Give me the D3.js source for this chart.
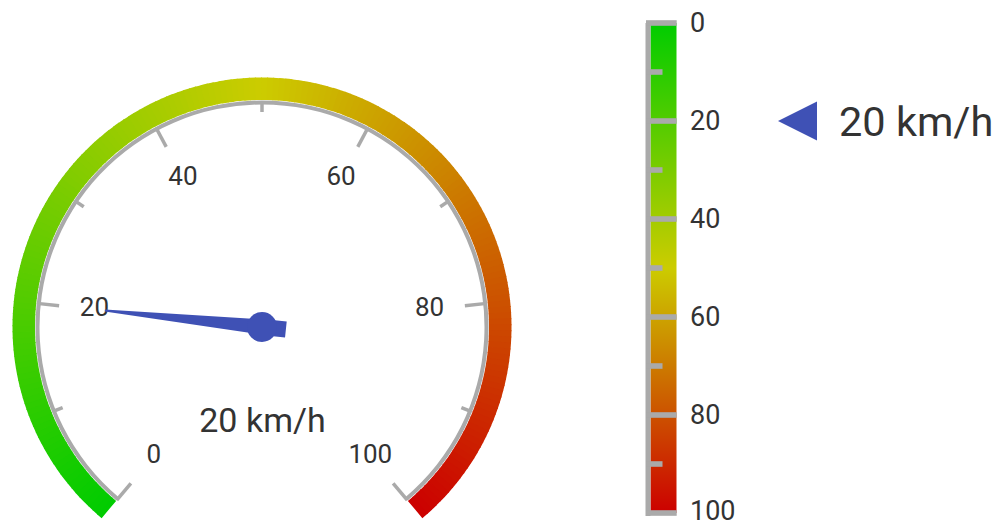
<!DOCTYPE html>
<html><head><meta charset="utf-8">
<script src="https://cdn.jsdelivr.net/npm/d3@7"></script>
<style>
body{margin:0;background:#fff}
svg{display:block;font-family:Roboto,"Noto Sans",sans-serif}
</style>
</head><body>
<svg id="c" width="1003" height="522"></svg>
<script>
// ---- data ----
const scaleTicks = [0, 20, 40, 60, 80, 100];
const minorTicks = [10, 30, 50, 70, 90];
const currentValue = 20;
const unitLabel = "km/h";
const rangeColors = ["#00cc00", "#cccc00", "#cc0000"];
const scaleMin = 0, scaleMax = 100;

// ---- setup ----
const svg = d3.select("#c");
const gray = "#aaaaaa";
const textColor = "#333333";
const pointerColor = "#3f51b5";
const colorAt = d3.scaleLinear().domain([scaleMin, (scaleMin + scaleMax) / 2, scaleMax])
  .range(rangeColors).interpolate(d3.interpolateRgb);

// ===== Radial gauge =====
const cx = 262, cy = 327;
const angle = d3.scaleLinear().domain([scaleMin, scaleMax]).range([-140, 140]); // degrees, 0 = top
const rad = d => angle(d) * Math.PI / 180;
const pt = (v, r) => [cx + r * Math.sin(rad(v)), cy - r * Math.cos(rad(v))];
const gR = svg.append("g");

// coloured band (conic gradient via thin slices)
const nSlices = 200;
const step = (scaleMax - scaleMin) / nSlices;
const slices = d3.range(nSlices).map(i => scaleMin + i * step);
const bandArc = d3.arc().innerRadius(227).outerRadius(249.5);
gR.append("g").attr("transform", `translate(${cx},${cy})`)
  .selectAll("path").data(slices).join("path")
  .attr("d", d => bandArc({startAngle: rad(d) - (d > scaleMin ? 0.004 : 0),
                           endAngle: rad(Math.min(d + step, scaleMax))}))
  .attr("fill", d => colorAt(d + step / 2));

// gray axis arc
const axisArc = d3.arc().innerRadius(222.5).outerRadius(226.5)
  .startAngle(rad(scaleMin)).endAngle(rad(scaleMax));
gR.append("path").attr("transform", `translate(${cx},${cy})`)
  .attr("d", axisArc()).attr("fill", gray);

// ticks
gR.selectAll("line.maj").data(scaleTicks).join("line").attr("class", "maj")
  .attr("x1", d => pt(d, 226)[0]).attr("y1", d => pt(d, 226)[1])
  .attr("x2", d => pt(d, 204)[0]).attr("y2", d => pt(d, 204)[1])
  .attr("stroke", gray).attr("stroke-width", 3.5);
gR.selectAll("line.min").data(minorTicks).join("line").attr("class", "min")
  .attr("x1", d => pt(d, 226)[0]).attr("y1", d => pt(d, 226)[1])
  .attr("x2", d => pt(d, 215)[0]).attr("y2", d => pt(d, 215)[1])
  .attr("stroke", gray).attr("stroke-width", 3.5);

// labels
gR.selectAll("text.lbl").data(scaleTicks).join("text").attr("class", "lbl")
  .attr("x", d => pt(d, 168.5)[0])
  .attr("y", d => pt(d, 168.5)[1] - 2.3 + 0.355 * 26)
  .attr("text-anchor", "middle").attr("font-size", 26).attr("fill", textColor)
  .text(d => d);

// needle
const needleLen = 158;
const needlePts = [[needleLen, -1], [needleLen, 1], [0, 7.5], [0, 8], [-24, 8], [-24, -8], [0, -8], [0, -7.5]];
const nAng = rad(currentValue);
const toXY = ([u, v]) => {
  const dx = Math.sin(nAng), dy = -Math.cos(nAng); // direction to value
  const px = -dy, py = dx;                          // perpendicular
  return [cx + u * dx + v * px, cy + u * dy + v * py];
};
gR.append("path").attr("d", d3.line()(needlePts.map(toXY)) + "Z").attr("fill", pointerColor);
gR.append("circle").attr("cx", cx).attr("cy", cy).attr("r", 15).attr("fill", pointerColor);

// value text
gR.append("text").attr("x", 262.5).attr("y", 432).attr("text-anchor", "middle")
  .attr("font-size", 34).attr("fill", textColor).text(`${currentValue} ${unitLabel}`);

// ===== Linear gauge =====
const y = d3.scaleLinear().domain([scaleMin, scaleMax]).range([23, 513]);
const gL = svg.append("g");
const defs = svg.append("defs");
const grad = defs.append("linearGradient").attr("id", "lg")
  .attr("gradientUnits", "userSpaceOnUse")
  .attr("x1", 0).attr("x2", 0).attr("y1", y(scaleMin)).attr("y2", y(scaleMax));
grad.selectAll("stop").data(rangeColors).join("stop")
  .attr("offset", (d, i) => i / (rangeColors.length - 1)).attr("stop-color", d => d);

gL.append("rect").attr("x", 650.5).attr("y", y(scaleMin)).attr("width", 26)
  .attr("height", y(scaleMax) - y(scaleMin)).attr("fill", "url(#lg)");
// axis line
gL.append("rect").attr("x", 645.5).attr("y", y(scaleMin)).attr("width", 5)
  .attr("height", y(scaleMax) - y(scaleMin) + 3).attr("fill", gray);
// ticks
gL.selectAll("rect.maj").data(scaleTicks).join("rect").attr("class", "maj")
  .attr("x", 646).attr("y", d => y(d) - 2.8).attr("width", 30.7).attr("height", 5.6).attr("fill", gray);
gL.selectAll("rect.min").data(minorTicks).join("rect").attr("class", "min")
  .attr("x", 646).attr("y", d => y(d) - 2.8).attr("width", 16.5).attr("height", 5.6).attr("fill", gray);
// labels
gL.selectAll("text").data(scaleTicks).join("text")
  .attr("x", 690).attr("y", d => Math.min(y(d) - 1 + 0.355 * 27, 520))
  .attr("font-size", 27).attr("fill", textColor).text(d => d);

// pointer
const py0 = y(currentValue);
gL.append("path")
  .attr("d", d3.line()([[778, py0], [817, py0 - 19.5], [817, py0 + 19.5]]) + "Z")
  .attr("fill", pointerColor);
gL.append("text").attr("x", 839).attr("y", py0 + 0.355 * 41.5)
  .attr("font-size", 41.5).attr("fill", textColor).text(`${currentValue} ${unitLabel}`);
</script>
</body></html>
